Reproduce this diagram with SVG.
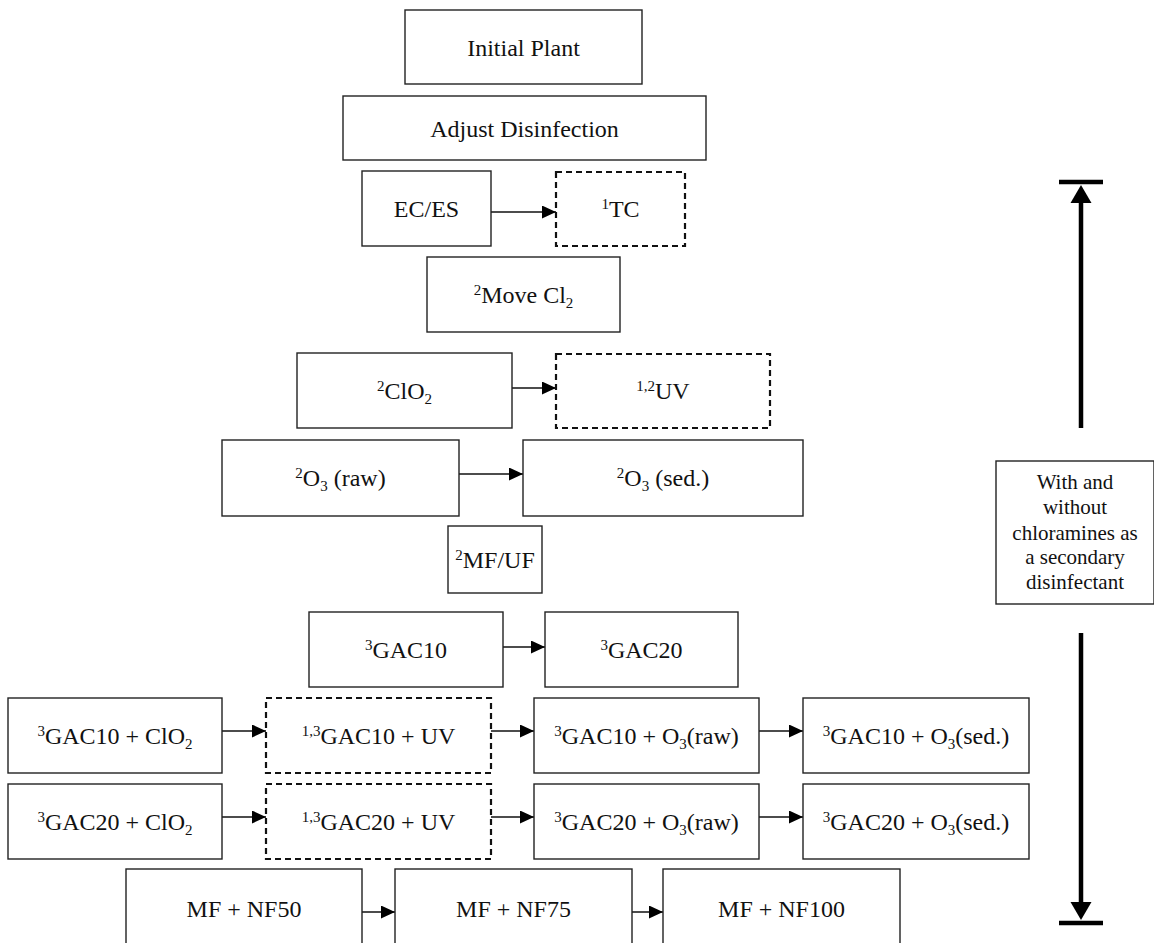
<svg xmlns="http://www.w3.org/2000/svg" width="1154" height="943" viewBox="0 0 1154 943">
<style>
text{font-family:"Liberation Serif","Times New Roman",serif;font-size:24px;fill:#111;text-anchor:middle}
.box{fill:#fff;stroke:#222;stroke-width:1.4}
.dash{fill:#fff;stroke:#111;stroke-width:2.2;stroke-dasharray:6 4}
.sup,.sub{font-size:15px}
.side{font-size:21px}
.con{stroke:#111;stroke-width:1.5;fill:none;marker-end:url(#ah)}
.thick{stroke:#000;stroke-width:4.5;fill:none}
</style>
<defs>
<marker id="ah" viewBox="0 0 14 13" refX="14" refY="6.5" markerWidth="14" markerHeight="13" markerUnits="userSpaceOnUse" orient="auto">
<path d="M0,0 L14,6.5 L0,13 Z" fill="#000"/>
</marker>
</defs>
<g id="connectors">
<line class="con" x1="491" y1="212" x2="556" y2="212"/>
<line class="con" x1="512" y1="388" x2="556" y2="388"/>
<line class="con" x1="459" y1="474" x2="523" y2="474"/>
<line class="con" x1="503" y1="647" x2="545" y2="647"/>
<line class="con" x1="222" y1="731" x2="266" y2="731"/>
<line class="con" x1="491" y1="731" x2="534" y2="731"/>
<line class="con" x1="759" y1="731" x2="803" y2="731"/>
<line class="con" x1="222" y1="817" x2="266" y2="817"/>
<line class="con" x1="491" y1="817" x2="534" y2="817"/>
<line class="con" x1="759" y1="817" x2="803" y2="817"/>
<line class="con" x1="362" y1="912" x2="395" y2="912"/>
<line class="con" x1="632" y1="912" x2="663" y2="912"/>
<g id="range-arrow">
<line class="thick" x1="1059" y1="182" x2="1103" y2="182" stroke-width="6"/>
<path d="M1081,185 L1091.5,203 L1070.5,203 Z" fill="#000"/>
<line class="thick" x1="1081" y1="202" x2="1081" y2="428"/>
<line class="thick" x1="1081" y1="633" x2="1081" y2="904"/>
<path d="M1081,920 L1091.5,902 L1070.5,902 Z" fill="#000"/>
<line class="thick" x1="1059" y1="923" x2="1103" y2="923" stroke-width="6"/>
</g>
</g>
<g id="n-initial"><rect class="box" x="405" y="10" width="237" height="74"/><text x="523.5" y="56">Initial Plant</text></g>
<g id="n-adjust"><rect class="box" x="343" y="96" width="363" height="64"/><text x="524.5" y="137">Adjust Disinfection</text></g>
<g id="n-ecesc"><rect class="box" x="362" y="171" width="129" height="75"/><text x="426.5" y="217">EC/ES</text></g>
<g id="n-tc"><rect class="dash" x="556" y="172" width="129" height="74"/><text x="620.5" y="217"><tspan class="sup" dy="-8">1</tspan><tspan dy="8">TC</tspan></text></g>
<g id="n-movecl2"><rect class="box" x="427" y="257" width="193" height="75"/><text x="523.5" y="303"><tspan class="sup" dy="-8">2</tspan><tspan dy="8">Move Cl</tspan><tspan class="sub" dy="5">2</tspan></text></g>
<g id="n-clo2"><rect class="box" x="297" y="353" width="215" height="75"/><text x="404.5" y="399"><tspan class="sup" dy="-8">2</tspan><tspan dy="8">ClO</tspan><tspan class="sub" dy="5">2</tspan></text></g>
<g id="n-uv"><rect class="dash" x="556" y="354" width="214" height="74"/><text x="663" y="399"><tspan class="sup" dy="-8">1,2</tspan><tspan dy="8">UV</tspan></text></g>
<g id="n-o3raw"><rect class="box" x="222" y="440" width="237" height="76"/><text x="340.5" y="486"><tspan class="sup" dy="-8">2</tspan><tspan dy="8">O</tspan><tspan class="sub" dy="5">3</tspan><tspan dy="-5"> (raw)</tspan></text></g>
<g id="n-o3sed"><rect class="box" x="523" y="440" width="280" height="76"/><text x="663" y="486"><tspan class="sup" dy="-8">2</tspan><tspan dy="8">O</tspan><tspan class="sub" dy="5">3</tspan><tspan dy="-5"> (sed.)</tspan></text></g>
<g id="n-mfuf"><rect class="box" x="448" y="526" width="94" height="67"/><text x="495" y="568"><tspan class="sup" dy="-8">2</tspan><tspan dy="8">MF/UF</tspan></text></g>
<g id="n-gac10"><rect class="box" x="309" y="612" width="194" height="75"/><text x="406" y="658"><tspan class="sup" dy="-8">3</tspan><tspan dy="8">GAC10</tspan></text></g>
<g id="n-gac20"><rect class="box" x="545" y="612" width="193" height="75"/><text x="641.5" y="658"><tspan class="sup" dy="-8">3</tspan><tspan dy="8">GAC20</tspan></text></g>
<g id="n-gac10-clo2"><rect class="box" x="8" y="698" width="214" height="75"/><text x="115" y="744"><tspan class="sup" dy="-8">3</tspan><tspan dy="8">GAC10 + ClO</tspan><tspan class="sub" dy="5">2</tspan></text></g>
<g id="n-gac10-uv"><rect class="dash" x="266" y="698" width="225" height="75"/><text x="378.5" y="744"><tspan class="sup" dy="-8">1,3</tspan><tspan dy="8">GAC10 + UV</tspan></text></g>
<g id="n-gac10-o3raw"><rect class="box" x="534" y="698" width="225" height="75"/><text x="646.5" y="744"><tspan class="sup" dy="-8">3</tspan><tspan dy="8">GAC10 + O</tspan><tspan class="sub" dy="5">3</tspan><tspan dy="-5">(raw)</tspan></text></g>
<g id="n-gac10-o3sed"><rect class="box" x="803" y="698" width="226" height="75"/><text x="916" y="744"><tspan class="sup" dy="-8">3</tspan><tspan dy="8">GAC10 + O</tspan><tspan class="sub" dy="5">3</tspan><tspan dy="-5">(sed.)</tspan></text></g>
<g id="n-gac20-clo2"><rect class="box" x="8" y="784" width="214" height="75"/><text x="115" y="830"><tspan class="sup" dy="-8">3</tspan><tspan dy="8">GAC20 + ClO</tspan><tspan class="sub" dy="5">2</tspan></text></g>
<g id="n-gac20-uv"><rect class="dash" x="266" y="784" width="225" height="75"/><text x="378.5" y="830"><tspan class="sup" dy="-8">1,3</tspan><tspan dy="8">GAC20 + UV</tspan></text></g>
<g id="n-gac20-o3raw"><rect class="box" x="534" y="784" width="225" height="75"/><text x="646.5" y="830"><tspan class="sup" dy="-8">3</tspan><tspan dy="8">GAC20 + O</tspan><tspan class="sub" dy="5">3</tspan><tspan dy="-5">(raw)</tspan></text></g>
<g id="n-gac20-o3sed"><rect class="box" x="803" y="784" width="226" height="75"/><text x="916" y="830"><tspan class="sup" dy="-8">3</tspan><tspan dy="8">GAC20 + O</tspan><tspan class="sub" dy="5">3</tspan><tspan dy="-5">(sed.)</tspan></text></g>
<g id="n-nf50"><rect class="box" x="126" y="869" width="236" height="90"/><text x="244" y="917">MF + NF50</text></g>
<g id="n-nf75"><rect class="box" x="395" y="869" width="237" height="90"/><text x="513.5" y="917">MF + NF75</text></g>
<g id="n-nf100"><rect class="box" x="663" y="869" width="237" height="90"/><text x="781.5" y="917">MF + NF100</text></g>
<g id="n-side"><rect class="box" x="996" y="461" width="158" height="143"/>
<text class="side" x="1075" y="489">With and</text>
<text class="side" x="1075" y="514">without</text>
<text class="side" x="1075" y="540">chloramines as</text>
<text class="side" x="1075" y="564">a secondary</text>
<text class="side" x="1075" y="589">disinfectant</text>
</g>
</svg>
